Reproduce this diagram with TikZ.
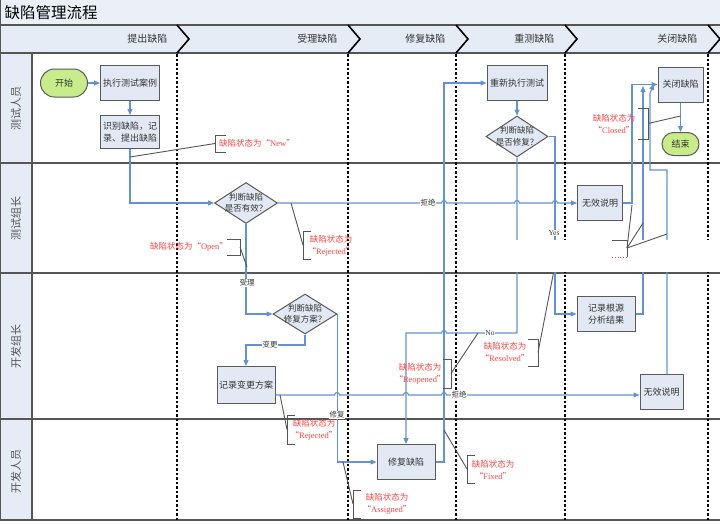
\documentclass[tikz,border=0pt]{standalone}
\usepackage{fontspec}
\setmainfont{Noto Sans CJK SC}
\newfontfamily\lat{Liberation Serif}
\usetikzlibrary{arrows.meta,shapes.geometric}
\definecolor{hdr}{HTML}{E6ECF6}
\definecolor{boxfill}{HTML}{E3E9F4}
\definecolor{boxline}{HTML}{5A5A5A}
\definecolor{flow}{HTML}{6392D4}
\definecolor{term}{HTML}{C8EC8A}
\definecolor{note}{HTML}{FF4545}
\definecolor{txt}{HTML}{333333}
\definecolor{lanec}{HTML}{555555}
\begin{document}
\begin{tikzpicture}[x=1pt,y=-1pt,
  proc/.style={draw=boxline,fill=boxfill,line width=1pt,inner sep=0pt,align=center,font=\fontsize{9}{12}\selectfont,text=txt},
  dec/.style={draw=boxline,fill=boxfill,line width=1pt,diamond,inner sep=0pt},
  dectext/.style={align=center,font=\fontsize{8.5}{11.5}\selectfont,text=txt,inner sep=0pt},
  termn/.style={draw=boxline,fill=term,line width=1pt,inner sep=0pt,font=\fontsize{9}{11}\selectfont,text=txt},
  flowline/.style={draw=flow,line width=1.1pt},
  arr/.style={-{Triangle[length=6pt,width=5pt]}},
  elab/.style={fill=white,inner sep=0.6pt,font=\fontsize{7.5}{9}\selectfont,text=txt},
  notetext/.style={text=note,align=center,font=\fontsize{8.5}{12}\selectfont,inner sep=0pt},
  bracketline/.style={draw=lanec,line width=0.9pt},
  phaseline/.style={draw=black,line width=1.8pt,dash pattern=on 2.5pt off 2pt},
  chev/.style={draw=black,line width=1.6pt},
  lanelbl/.style={rotate=90,font=\fontsize{11}{11}\selectfont,text=lanec},
  phaselbl/.style={anchor=east,font=\fontsize{10}{10}\selectfont,text=txt},
  laneline/.style={draw=lanec,line width=1.2pt}
  ]
\useasboundingbox (0,0) rectangle (720,523);
% backgrounds
\fill[hdr!80!white] (0,0) rectangle (720,25);
\fill[hdr] (0,25) rectangle (720,53);
\fill[hdr] (0,53) rectangle (32,520);
\fill[white] (32,53) rectangle (720,520);
\node[anchor=west,font=\fontsize{15.5}{15.5}\selectfont,text=black] (title) at (1,12.5) {缺陷管理流程};
% lane lines
\draw[laneline] (0,25) -- (720,25);
\draw[laneline] (0,53) -- (720,53);
\draw[laneline] (0,163) -- (720,163);
\draw[laneline] (0,273) -- (720,273);
\draw[laneline] (0,419) -- (720,419);
\draw[laneline] (0,520) -- (720,520);
\draw[laneline] (32,53) -- (32,520);
\draw[laneline] (0.6,0) -- (0.6,520);
\node[lanelbl] (l1) at (16,108) {测试人员};
\node[lanelbl] (l2) at (16,218) {测试组长};
\node[lanelbl] (l3) at (16,346) {开发组长};
\node[lanelbl] (l4) at (16,471) {开发人员};
% phases
\node[phaselbl] (p1) at (171,39) {提出缺陷};
\node[phaselbl] (p2) at (341,39) {受理缺陷};
\node[phaselbl] (p3) at (449,39) {修复缺陷};
\node[phaselbl] (p4) at (558,39) {重测缺陷};
\node[phaselbl] (p5) at (701,39) {关闭缺陷};
\foreach \px in {177,348,456,565,708}{
  \draw[chev] (\px,25) -- (\px+12,39) -- (\px,53);
  \draw[phaseline] (\px,54) -- (\px,520);
}
% nodes
\node[termn,minimum width=47pt,minimum height=28pt,rounded corners=14pt] (start) at (64,83) {开始};
\node[proc,minimum width=59pt,minimum height=35pt] (exec) at (130,83) {执行测试案例};
\node[proc,minimum width=59pt,minimum height=33pt] (ident) at (130,132) {识别缺陷，记\\录、提出缺陷};
\node[dec,minimum width=63pt,minimum height=41pt] (d1) at (246,203) {};
\node[dectext] (d1t) at (246,203) {判断缺陷\\是否有效？};
\node[proc,minimum width=45pt,minimum height=35pt] (nv1) at (600,203) {无效说明};
\node[dec,minimum width=64pt,minimum height=40pt] (d2) at (305,314) {};
\node[dectext] (d2t) at (305,314) {判断缺陷\\修复方案？};
\node[proc,minimum width=58pt,minimum height=37pt] (rec) at (246,385) {记录变更方案};
\node[proc,minimum width=43pt,minimum height=35pt] (nv2) at (661.5,392) {无效说明};
\node[proc,minimum width=58pt,minimum height=35pt] (fix) at (406,462) {修复缺陷};
\node[proc,minimum width=60pt,minimum height=35pt] (retest) at (517,83) {重新执行测试};
\node[dec,minimum width=62pt,minimum height=41pt] (d3) at (517,136.5) {};
\node[dectext] (d3t) at (517,136.5) {判断缺陷\\是否修复？};
\node[proc,minimum width=58pt,minimum height=35pt] (rca) at (606,314) {记录根源\\分析结果};
\node[proc,minimum width=45pt,minimum height=35pt] (close) at (680.5,84.5) {关闭缺陷};
\node[termn,minimum width=37pt,minimum height=23pt,rounded corners=11.5pt] (end) at (680.5,144) {结束};
% connectors
\draw[flowline,arr] (start) -- (exec);
\draw[flowline,arr] (exec) -- (ident);
\draw[flowline,arr] (ident.south) |- (d1.west);
\draw[flowline,arr] (d1.east) -- (441.5,203) .. controls (441.5,199.7) and (446.5,199.7) .. (446.5,203)
  -- (514.5,203) .. controls (514.5,199.7) and (519.5,199.7) .. (519.5,203)
  -- (552.5,203) .. controls (552.5,199.7) and (557.5,199.7) .. (557.5,203) -- (nv1.west);
\node[elab] (lrej1) at (428,203) {拒绝};
\draw[flowline,arr] (d1.south) |- (d2.west);
\node[elab] (lacc) at (247,283) {受理};
\draw[flowline,arr] (d2.south) -- (305,345) -- (246,345) -- (rec.north);
\node[elab] (lchg) at (270,345) {变更};
\draw[flowline,arr] (d2.east) |- (fix.west);
\node[elab] (lfix) at (337,415) {修复};
\coordinate (ry) at (0,395);
\draw[flowline,arr] (rec.east |- ry) -- (334.5,395) .. controls (334.5,391.7) and (339.5,391.7) .. (339.5,395)
  -- (403.5,395) .. controls (403.5,391.7) and (408.5,391.7) .. (408.5,395)
  -- (441.5,395) .. controls (441.5,391.7) and (446.5,391.7) .. (446.5,395) -- (nv2.west |- ry);
\node[elab] (lrej2) at (459,395) {拒绝};
\draw[flowline,arr] (d3.south) -- (517,333) -- (446.5,333) .. controls (446.5,329.7) and (441.5,329.7) .. (441.5,333)
  -- (406,333) -- (fix.north);
\node[elab] (lno) at (490,333) {\lat No};
\draw[flowline,arr] (fix.east) -- (444,462) -- (444,83) -- (retest.west);
\draw[flowline,arr] (retest) -- (d3);
\draw[flowline,arr] (d3.east) -- (555,136.5) -- (555,314) -- (rca.west);
\node[elab] (lyes) at (554,233) {\lat Yes};
\draw[flowline,arr] (nv1.east) -- (632,203) |- (close.west);
\coordinate (bend) at (643,86);
\draw[flowline,arr] (rca.east) -- (643,314) -- (bend);
\coordinate (cend) at (654,84);
\draw[flowline,arr] ([xshift=5.5pt]nv2.north) -- (667,170) -- (650,170) -- (650,93) -- (cend);
\draw[flowline,arr] (close) -- (end);
% callouts
\node[notetext,anchor=west] (nNew) at (219,143.5) {缺陷状态为“{\lat New}”};
\draw[bracketline] (226,135) -- (215,135) -- (215,152) -- (226,152);
\draw[bracketline] (215,143.5) -- (130,157);
\node[notetext] (nOpen) at (189,247) {缺陷状态为“{\lat Open}”};
\draw[bracketline] (227,239) -- (240,239) -- (240,255) -- (227,255);
\draw[bracketline] (240,247) -- (247,267);
\node[notetext] (nRej1) at (331,245.5) {缺陷状态为\\“{\lat Rejected}”};
\draw[bracketline] (311,231) -- (303,231) -- (303,259) -- (311,259);
\draw[bracketline] (303,245) -- (291,203);
\node[notetext] (nRej2) at (314,430) {缺陷状态为\\“{\lat Rejected}”};
\draw[bracketline] (295,415) -- (287,415) -- (287,444) -- (295,444);
\draw[bracketline] (287,429.5) -- (280,395);
\node[notetext] (nReo) at (420,373.5) {缺陷状态为\\“{\lat Reopened}”};
\draw[bracketline] (443,359) -- (451,359) -- (451,388) -- (443,388);
\draw[bracketline] (451,373.5) -- (478,333);
\node[notetext] (nRes) at (505,352) {缺陷状态为\\“{\lat Resolved}”};
\draw[bracketline] (528,339) -- (538,339) -- (538,366) -- (528,366);
\draw[bracketline] (538,352.5) -- (555,265);
\node[notetext] (nFix) at (493,469.5) {缺陷状态为\\“{\lat Fixed}”};
\draw[bracketline] (475,455) -- (467,455) -- (467,483) -- (475,483);
\draw[bracketline] (467,469) -- (444,430);
\node[notetext] (nAsg) at (387,504) {缺陷状态为\\“{\lat Assigned}”};
\draw[bracketline] (361,490) -- (353,490) -- (353,518) -- (361,518);
\draw[bracketline] (353,504) -- (343,462);
\node[notetext] (nClo) at (614,123.5) {缺陷状态为\\“{\lat Closed}”};
\draw[bracketline] (638,108) -- (648,108) -- (648,139) -- (638,139);
\draw[bracketline] (648,123.5) -- (680.5,116);
% white-out patch as in the reference
\fill[white] (480,240) rectangle (720,271.5);
\draw[bracketline] (612,240) -- (627,240) -- (627,257);
\draw[note,line width=0.8pt,dotted] (612,257) -- (627,257);
\draw[bracketline] (627,248) -- (632,205);
\draw[bracketline] (627,248) -- (643,223);
\draw[bracketline] (627,248) -- (667,234);
\end{tikzpicture}
\end{document}
